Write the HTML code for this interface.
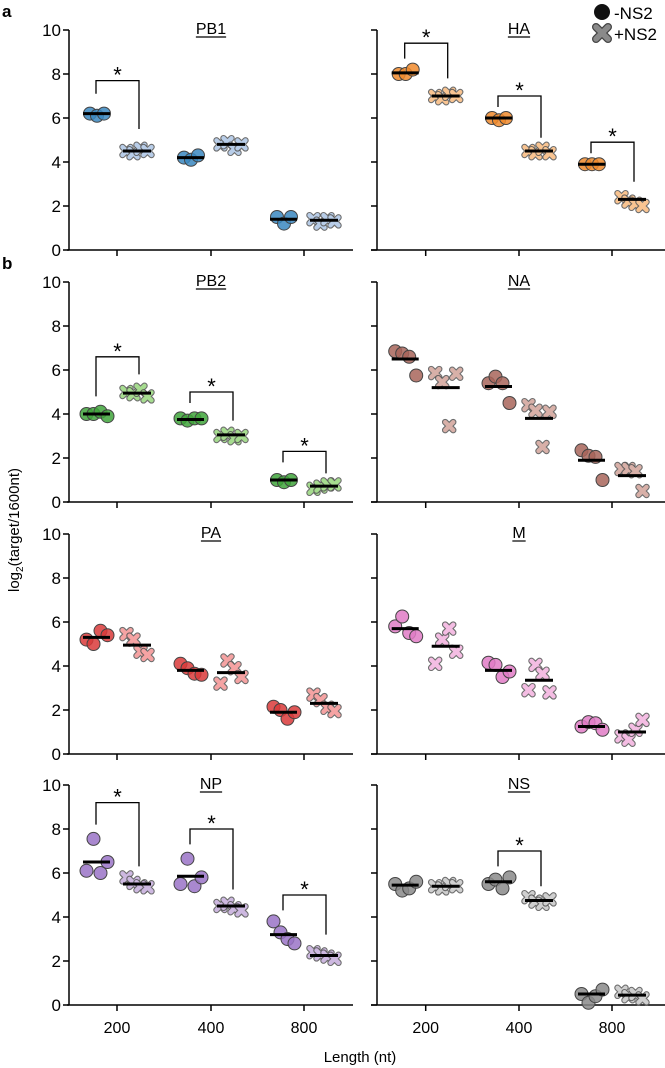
<!DOCTYPE html>
<html><head><meta charset="utf-8"><style>
html,body{margin:0;padding:0;background:#fff;}
svg{display:block;font-family:"Liberation Sans",sans-serif;}
</style></head><body>
<svg id="chart" width="665" height="1068" viewBox="0 0 665 1068"></svg>
<script>
const lengths = ["200","400","800"];
const yTicks = [0,2,4,6,8,10];
const segments = ["PB1","HA","PB2","NA","PA","M","NP","NS"];
const circColors = ["#3a87c0","#f08a2c","#3fa53b","#a8655a","#d93a3a","#e07bc5","#9a73c7","#8a8a8a"];
const crossColors = ["#b8cde8","#f9c491","#a6dc8f","#d8b0a8","#f5a3a3","#f4bde3","#cdb8e0","#cfcfcf"];
// -NS2 replicate values per segment, per length
const minusNS2 = [
 [[6.2,6.1,6.2],[4.2,4.1,4.3],[1.5,1.2,1.5]],
 [[8.0,8.0,8.2],[6.0,5.9,6.0],[3.9,3.9,3.9]],
 [[4.0,4.0,4.1,3.9],[3.8,3.7,3.8,3.8],[1.0,0.9,1.0]],
 [[6.85,6.75,6.6,5.75],[5.4,5.7,5.4,4.5],[2.35,2.1,2.05,1.0]],
 [[5.2,5.0,5.6,5.4],[4.1,3.9,3.65,3.6],[2.15,2.0,1.6,1.9]],
 [[5.8,6.25,5.5,5.35],[4.15,4.05,3.5,3.75],[1.25,1.45,1.4,1.1]],
 [[6.1,7.55,6.0,6.5],[5.5,6.65,5.4,5.8],[3.8,3.3,3.0,2.8]],
 [[5.5,5.2,5.3,5.6],[5.5,5.7,5.3,5.8],[0.5,0.1,0.4,0.7]]
];
const plusNS2 = [
 [[4.5,4.4,4.6,4.5],[4.8,4.9,4.6,4.8],[1.4,1.2,1.4,1.3]],
 [[7.0,6.9,7.1,7.0],[4.5,4.4,4.6,4.4],[2.4,2.2,2.1,2.0]],
 [[5.0,4.9,5.1,4.8],[3.0,3.1,2.9,3.0],[0.6,0.7,0.8,0.8]],
 [[5.86,5.45,3.45,5.83],[4.4,4.15,2.5,4.1],[1.5,1.5,1.4,0.5]],
 [[5.45,5.2,4.65,4.5],[3.2,4.25,3.9,3.5],[2.7,2.45,2.1,1.95]],
 [[4.1,5.2,5.7,4.65],[2.9,4.05,3.65,2.8],[0.8,0.65,1.1,1.55]],
 [[5.8,5.55,5.4,5.35],[4.5,4.6,4.4,4.3],[2.4,2.3,2.2,2.1]],
 [[5.4,5.3,5.5,5.4],[4.9,4.7,4.6,4.8],[0.6,0.4,0.5,0.3]]
];
const minusMeans = [[6.2,4.2,1.4],[8.05,6.0,3.9],[4.0,3.75,1.0],[6.5,5.25,1.9],[5.3,3.8,1.9],[5.7,3.8,1.25],[6.5,5.85,3.2],[5.45,5.6,0.5]];
const plusMeans = [[4.5,4.8,1.35],[7.0,4.5,2.3],[4.95,3.05,0.72],[5.2,3.8,1.2],[4.95,3.7,2.3],[4.9,3.35,1.0],[5.5,4.5,2.25],[5.4,4.75,0.45]];
// significance brackets: [segment, lengthIndex, top, leftBottom, rightBottom]
const brackets = [
 [0,0,7.7,7.1,5.5],
 [1,0,9.4,8.7,7.8],[1,1,7.0,6.5,5.1],[1,2,4.9,4.4,3.1],
 [2,0,6.6,4.8,5.8],[2,1,5.0,4.5,3.7],[2,2,2.3,1.8,1.3],
 [6,0,9.2,8.2,6.3],[6,1,8.0,7.3,5.25],[6,2,5.0,4.3,3.2],
 [7,1,7.0,6.3,5.4]
];

const NS="http://www.w3.org/2000/svg";
const svg=document.getElementById('chart');
function mk(tag,attrs,parent){const e=document.createElementNS(NS,tag);for(const k in attrs)e.setAttribute(k,attrs[k]);(parent||svg).appendChild(e);return e;}
const rowZero=[250,502,754,1005];
const colAxis=[69,377];
const colTicks=[[117,211,304],[425.7,519,612]];
const unit=22;

function crossMarker(g,cx,cy,fill){
  const d=`M${cx-4},${cy-4}L${cx+4},${cy+4}M${cx+4},${cy-4}L${cx-4},${cy+4}`;
  mk('path',{d:d,stroke:'#555',"stroke-width":6.5,"stroke-linecap":"round",fill:"none",opacity:0.85},g);
  mk('path',{d:d,stroke:fill,"stroke-width":4.3,"stroke-linecap":"round",fill:"none"},g);
}

segments.forEach((name,s)=>{
  const row=Math.floor(s/2), col=s%2;
  const y0=rowZero[row], ax=colAxis[col];
  const yS=v=>y0-v*unit;
  const xS=i=>colTicks[col][i];
  const g=mk('g',{});
  
  
  const ya=mk('line',{x1:ax,y1:yS(10),x2:ax,y2:y0,stroke:'#000',"stroke-width":1.5},g);
  
  
  const xa=mk('line',{x1:col?371:67,y1:y0,x2:col?665:353,y2:y0,stroke:'#000',"stroke-width":1.5},g);
  
  
  yTicks.forEach(t=>{
    mk('line',{x1:ax-6,y1:yS(t),x2:ax,y2:yS(t),stroke:'#000',"stroke-width":1.5},g);
    if(col===0){
      const tl=mk('text',{x:ax-8,y:yS(t)+6,"text-anchor":"end","font-size":17},g);
      tl.textContent=t;
      
      
    }
  });
  lengths.forEach((L,i)=>{
    mk('line',{x1:xS(i),y1:y0,x2:xS(i),y2:y0+6,stroke:'#000',"stroke-width":1.5},g);
    if(row===3){
      const xl=mk('text',{x:xS(i),y:y0+28,"text-anchor":"middle","font-size":16},g);
      xl.textContent=L;
      
      
    }
  });
  const cxT=(col?519:211);
  const tt=mk('text',{x:cxT,y:yS(10)+4,"text-anchor":"middle","font-size":16},g);
  tt.textContent=name;
  
  
  const w=tt.getComputedTextLength();
  mk('line',{x1:cxT-w/2,y1:yS(10)+7,x2:cxT+w/2,y2:yS(10)+7,stroke:'#000',"stroke-width":1.2},g);
  lengths.forEach((L,i)=>{
    const cvals=minusNS2[s][i];
    cvals.forEach((v,k)=>{
      const x=xS(i)-20+(k-(cvals.length-1)/2)*7;
      const c=mk('circle',{cx:x,cy:yS(v),r:6.5,fill:circColors[s],"fill-opacity":0.85,stroke:'#444',"stroke-width":1},g);
      
      
    });
    const pvals=plusNS2[s][i];
    pvals.forEach((v,k)=>{
      const x=xS(i)+20+(k-(pvals.length-1)/2)*7;
      const pg=mk('g',{},g);
      
      
      crossMarker(pg,x,yS(v),crossColors[s]);
    });
    const m1=mk('line',{x1:xS(i)-34,x2:xS(i)-7,y1:yS(minusMeans[s][i]),y2:yS(minusMeans[s][i]),stroke:'#000',"stroke-width":3},g);
    
    
    const m2=mk('line',{x1:xS(i)+6,x2:xS(i)+34,y1:yS(plusMeans[s][i]),y2:yS(plusMeans[s][i]),stroke:'#000',"stroke-width":3},g);
    
    
  });
  brackets.filter(b=>b[0]===s).forEach(b=>{
    const i=b[1], xl=xS(i)-21, xr=xS(i)+22;
    const bp=mk('path',{d:`M${xl},${yS(b[3])}V${yS(b[2])}H${xr}V${yS(b[4])}`,fill:'none',stroke:'#000',"stroke-width":1.3},g);
    
    
    const st=mk('text',{x:(xl+xr)/2,y:yS(b[2])+2,"text-anchor":"middle","font-size":22},g);
    st.textContent='*';
    
    
  });
});
</script>
<div style="position:absolute;left:0;top:0;width:665px;height:1068px;pointer-events:none;">
<svg width="665" height="1068" style="position:absolute;left:0;top:0;font-family:'Liberation Sans',sans-serif;">
  <text x="2" y="17" font-size="17" font-weight="bold">a</text>
  <text x="2" y="269" font-size="17" font-weight="bold">b</text>
  <text transform="translate(19,530) rotate(-90)" text-anchor="middle" font-size="15">log<tspan font-size="10" dy="4">2</tspan><tspan dy="-4">(target/1600nt)</tspan></text>
  <text x="360" y="1062" text-anchor="middle" font-size="15">Length (nt)</text>
  <g>
    <circle cx="602" cy="12" r="8" fill="#111"/>
    <text x="614" y="19" font-size="17">-NS2</text>
    <path d="M596,27L608,39M608,27L596,39" stroke="#444" stroke-width="8" stroke-linecap="round"/>
    <path d="M596,27L608,39M608,27L596,39" stroke="#8a8a8a" stroke-width="5.5" stroke-linecap="round"/>
    <text x="614" y="40" font-size="17">+NS2</text>
  </g>
</svg>
</div>
</body></html>
